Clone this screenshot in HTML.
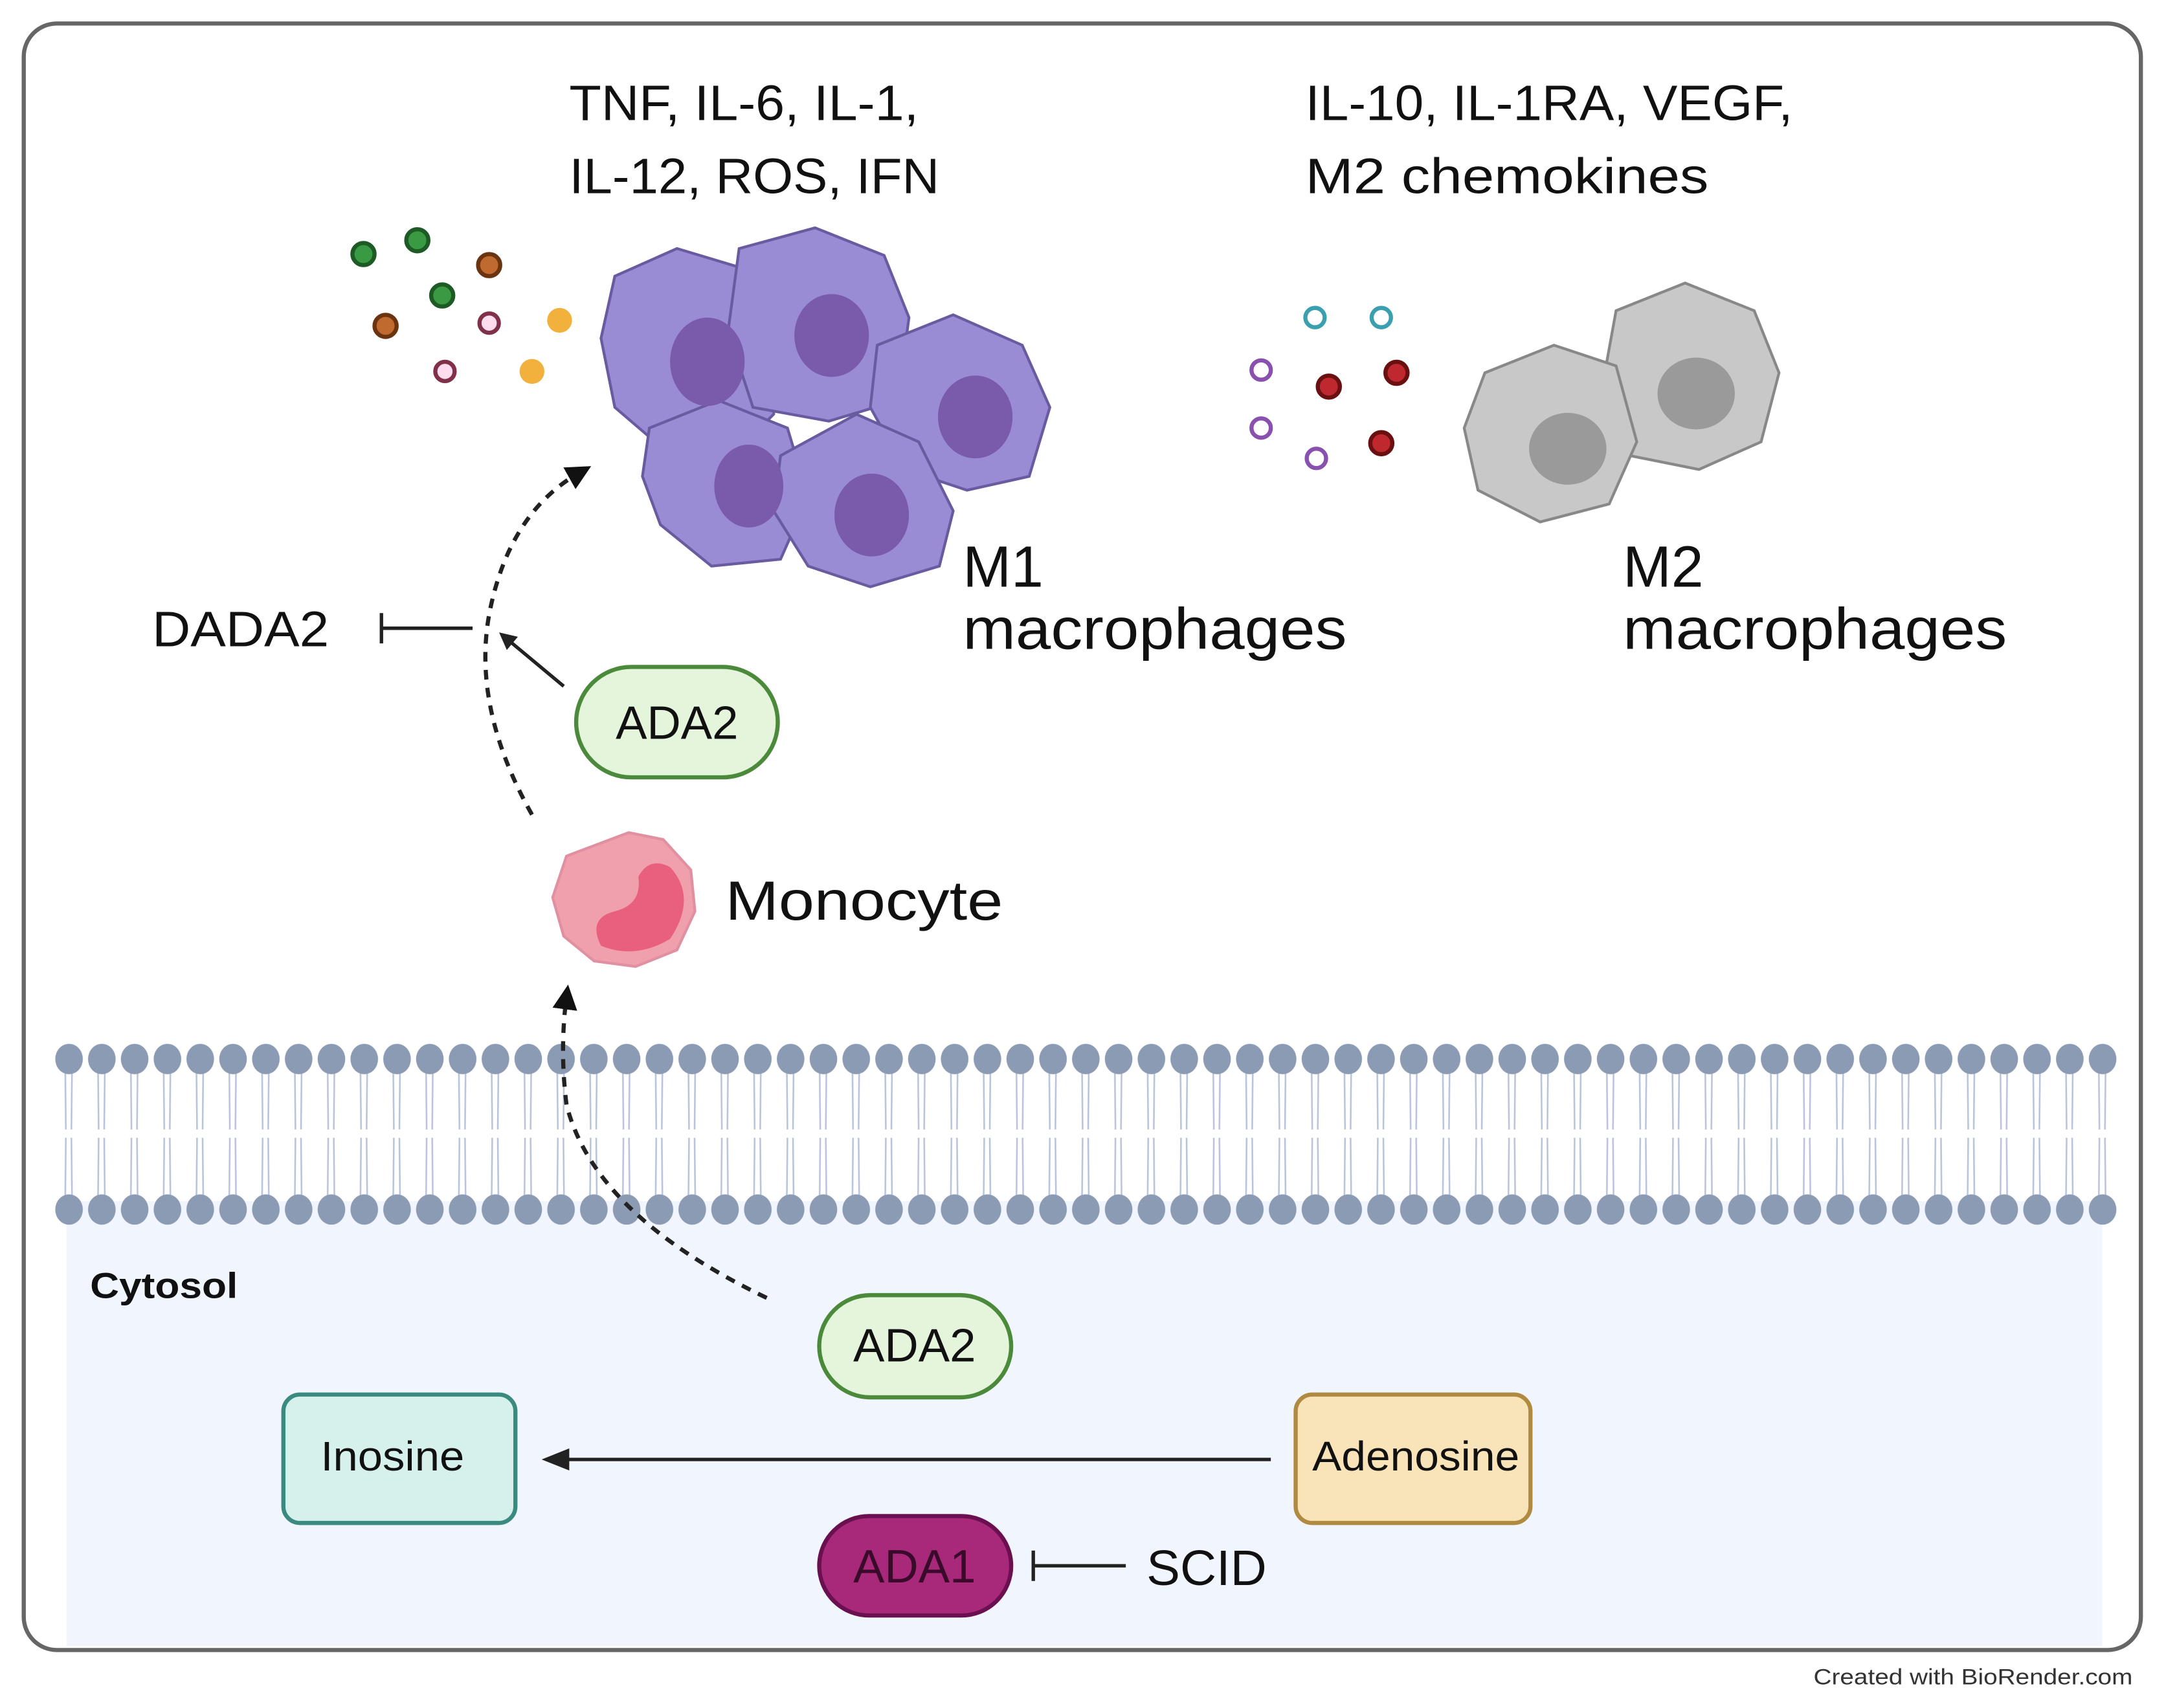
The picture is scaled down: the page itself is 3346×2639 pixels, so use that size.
<!DOCTYPE html>
<html><head><meta charset="utf-8"><style>
html,body{margin:0;padding:0;background:#fff;}
svg{display:block;}
text{font-family:"Liberation Sans",sans-serif;fill:#111;}
</style></head><body>
<svg width="3346" height="2639" viewBox="0 0 1568 1237" xmlns="http://www.w3.org/2000/svg">
<defs>
<pattern id="mem" x="38" y="0" width="23.75" height="1237" patternUnits="userSpaceOnUse">
<g stroke="#b8c4dc" stroke-width="1.2" fill="none">
<path d="M9 770 L9.5 818 M14 770 L13.5 818"/>
<path d="M9.5 824 L9 872 M13.5 824 L14 872"/>
</g>
<ellipse cx="11.8" cy="767" rx="10" ry="11" fill="#8c9bb4"/>
<ellipse cx="11.8" cy="876" rx="10" ry="11" fill="#8c9bb4"/>
</pattern>
<marker id="ah" viewBox="0 0 10 10" refX="5" refY="5" markerWidth="6" markerHeight="6" orient="auto"><path d="M0 0 L10 5 L0 10 z" fill="#111"/></marker>
<marker id="ah2" viewBox="0 0 10 10" refX="5" refY="5" markerWidth="5" markerHeight="5" orient="auto"><path d="M0 0 L10 5 L0 10 z" fill="#222"/></marker>
</defs>
<rect x="17" y="17" width="1533" height="1178" rx="24" fill="#fff" stroke="#666" stroke-width="3"/>
<rect x="48" y="870" width="1474" height="322" fill="#f1f5fd"/>
<rect x="38" y="750" width="1496" height="140" fill="url(#mem)"/>

<text x="412" y="87" font-size="36" textLength="253" lengthAdjust="spacingAndGlyphs">TNF, IL-6, IL-1,</text>
<text x="412" y="140" font-size="36" textLength="268" lengthAdjust="spacingAndGlyphs">IL-12, ROS, IFN</text>
<text x="945" y="87" font-size="36" textLength="353" lengthAdjust="spacingAndGlyphs">IL-10, IL-1RA, VEGF,</text>
<text x="945" y="140" font-size="36" textLength="292" lengthAdjust="spacingAndGlyphs">M2 chemokines</text>

<g stroke-width="3">
<circle cx="263" cy="184" r="8" fill="#3a9a44" stroke="#1d5a24"/>
<circle cx="302" cy="174" r="8" fill="#3a9a44" stroke="#1d5a24"/>
<circle cx="320" cy="214" r="8" fill="#3a9a44" stroke="#1d5a24"/>
<circle cx="354" cy="192" r="8" fill="#c06a30" stroke="#6a3410"/>
<circle cx="279" cy="236" r="8" fill="#c06a30" stroke="#6a3410"/>
<circle cx="354" cy="234" r="7" fill="#fde" stroke="#803048"/>
<circle cx="322" cy="269" r="7" fill="#fde" stroke="#803048"/>
<circle cx="405" cy="232" r="9" fill="#f2b03c" stroke="none"/>
<circle cx="385" cy="269" r="9" fill="#f2b03c" stroke="none"/>
</g>

<g stroke="#6a5aa0" stroke-width="2" fill="#9a8cd4">
<path d="M445 200 L490 180 L540 195 L565 240 L560 300 L530 330 L480 325 L445 295 L435 245 Z"/>
<path d="M535 180 L590 165 L640 185 L658 230 L650 290 L600 305 L545 295 L527 240 Z"/>
<path d="M635 250 L690 228 L740 250 L760 295 L745 345 L700 355 L655 340 L630 295 Z"/>
<path d="M470 310 L520 290 L570 310 L585 360 L565 405 L515 410 L478 380 L465 345 Z"/>
<path d="M565 330 L620 300 L665 320 L690 370 L680 410 L630 425 L585 410 L560 370 Z"/>
</g>
<g fill="#7a5aaa">
<ellipse cx="512" cy="262" rx="27" ry="32"/>
<ellipse cx="602" cy="243" rx="27" ry="30"/>
<ellipse cx="706" cy="302" rx="27" ry="30"/>
<ellipse cx="542" cy="352" rx="25" ry="30"/>
<ellipse cx="631" cy="373" rx="27" ry="30"/>
</g>

<g stroke="#888" stroke-width="2" fill="#c8c8c8">
<path d="M1170 225 L1220 205 L1270 225 L1288 270 L1275 320 L1230 340 L1180 330 L1160 280 Z"/>
<path d="M1075 270 L1125 250 L1170 265 L1185 320 L1165 365 L1115 378 L1070 355 L1060 310 Z"/>
</g>
<ellipse cx="1228" cy="285" rx="28" ry="26" fill="#9a9a9a"/>
<ellipse cx="1135" cy="325" rx="28" ry="26" fill="#9a9a9a"/>

<g stroke-width="3">
<circle cx="952" cy="230" r="7" fill="#fff" stroke="#3aa0b0"/>
<circle cx="1000" cy="230" r="7" fill="#fff" stroke="#3aa0b0"/>
<circle cx="913" cy="268" r="7" fill="#fff" stroke="#8a50b0"/>
<circle cx="913" cy="310" r="7" fill="#fff" stroke="#8a50b0"/>
<circle cx="953" cy="332" r="7" fill="#fff" stroke="#8a50b0"/>
<circle cx="962" cy="280" r="8" fill="#c02830" stroke="#6a1010"/>
<circle cx="1011" cy="270" r="8" fill="#c02830" stroke="#6a1010"/>
<circle cx="1000" cy="321" r="8" fill="#c02830" stroke="#6a1010"/>
</g>

<text x="697" y="425" font-size="42">M1</text>
<text x="697" y="470" font-size="42" textLength="278" lengthAdjust="spacingAndGlyphs">macrophages</text>
<text x="1175" y="425" font-size="42">M2</text>
<text x="1175" y="470" font-size="42" textLength="278" lengthAdjust="spacingAndGlyphs">macrophages</text>

<text x="110" y="468" font-size="36" textLength="128" lengthAdjust="spacingAndGlyphs">DADA2</text>
<path d="M276 455 H342 M276 444 V466" stroke="#222" stroke-width="2.5" fill="none"/>

<path d="M385 590 Q340 510 355 440 Q370 370 420 342" stroke="#222" stroke-width="3" stroke-dasharray="7 6" fill="none" marker-end="url(#ah)"/>
<path d="M408 497 L366 462" stroke="#222" stroke-width="2.5" fill="none" marker-end="url(#ah2)"/>

<rect x="417" y="483" width="146" height="80" rx="40" fill="#e4f5dc" stroke="#4a8a3a" stroke-width="3"/>
<text x="490" y="535" font-size="34" text-anchor="middle">ADA2</text>

<path d="M455 603 L480 608 L500 630 L503 660 L490 688 L460 700 L430 696 L408 678 L400 650 L410 620 Z" fill="#f0a0ac" stroke="#e090a0" stroke-width="2"/>
<path d="M485 628 Q505 650 485 680 Q460 695 435 685 Q425 665 445 660 Q465 655 462 635 Q470 620 485 628 Z" fill="#e8607e"/>
<text x="525" y="666" font-size="40" textLength="201" lengthAdjust="spacingAndGlyphs">Monocyte</text>

<path d="M555 940 Q430 880 410 800 Q405 760 410 722" stroke="#222" stroke-width="3" stroke-dasharray="7 6" fill="none" marker-end="url(#ah)"/>

<text x="65" y="940" font-size="26" font-weight="bold" textLength="107" lengthAdjust="spacingAndGlyphs">Cytosol</text>

<rect x="593" y="938" width="139" height="74" rx="37" fill="#e4f5dc" stroke="#4a8a3a" stroke-width="3"/>
<text x="662" y="986" font-size="34" text-anchor="middle">ADA2</text>

<rect x="205" y="1010" width="168" height="93" rx="12" fill="#d6f0ec" stroke="#3a8a80" stroke-width="3"/>
<text x="284" y="1065" font-size="30" text-anchor="middle" textLength="104" lengthAdjust="spacingAndGlyphs">Inosine</text>
<rect x="938" y="1010" width="170" height="93" rx="12" fill="#f8e4b8" stroke="#b08a40" stroke-width="3"/>
<text x="1025" y="1065" font-size="30" text-anchor="middle" textLength="150" lengthAdjust="spacingAndGlyphs">Adenosine</text>
<path d="M920 1057 H402" stroke="#222" stroke-width="2.5" fill="none"/>
<path d="M392 1057 L412 1049 L412 1065 Z" fill="#222"/>

<rect x="593" y="1098" width="139" height="72" rx="36" fill="#a8287a" stroke="#6a1050" stroke-width="3"/>
<text x="662" y="1146" font-size="34" text-anchor="middle" style="fill:#3a0a2a">ADA1</text>
<path d="M748 1134 H815 M748 1123 V1145" stroke="#222" stroke-width="2.5" fill="none"/>
<text x="830" y="1148" font-size="36" textLength="87" lengthAdjust="spacingAndGlyphs">SCID</text>

<text x="1313" y="1220" font-size="16" style="fill:#333" textLength="231" lengthAdjust="spacingAndGlyphs">Created with BioRender.com</text>
</svg>
</body></html>
